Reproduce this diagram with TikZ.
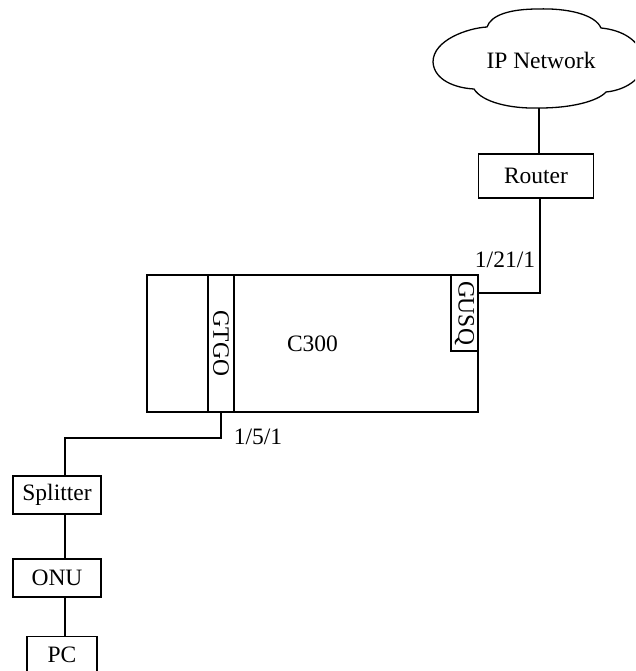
\documentclass[tikz,border=0pt]{standalone}
\usepackage{fontspec}
\setmainfont{Liberation Serif}
\begin{document}
\begin{tikzpicture}[x=1pt,y=-1pt,
  every node/.style={font=\fontsize{23.5}{28}\selectfont},
  boxnode/.style={draw,line width=1.3pt,inner sep=0pt,rectangle},
  wire/.style={line width=1.3pt}]
\clip (0,0) rectangle (635,671);
\fill[white] (0,0) rectangle (635,671);
% cloud
\draw[line width=1.3pt] (487,27) .. controls (468,28) and (433,40) .. (433,62)
  .. controls (434,80) and (455,88) .. (474,89)
  .. controls (482,102) and (510,109) .. (540,108)
  .. controls (572,108) and (598,101) .. (606,92)
  .. controls (628,90) and (648,75) .. (643,57)
  .. controls (639,40) and (622,30) .. (601,28)
  .. controls (595,14) and (566,8) .. (538,9)
  .. controls (510,9) and (491,15) .. (487,27) -- cycle;
\node (ipnet) at (541,60) {IP Network};
\coordinate (cloudbot) at (539,108);
\node[boxnode,minimum width=115pt,minimum height=44pt] (router) at (536,176) {Router};
\node[boxnode,minimum width=331pt,minimum height=137pt] (c300) at (312.5,343.5) {C300};
\node[boxnode,minimum width=26pt,minimum height=137pt] (gtgo) at (221,343.5) {\rotatebox{-90}{GTGO}};
\node[boxnode,minimum width=27pt,minimum height=76pt] (gusq) at (464.5,313) {\rotatebox{-90}{GUSQ}};
\node[boxnode,minimum width=88pt,minimum height=38pt] (splitter) at (57,495) {Splitter};
\node[boxnode,minimum width=88pt,minimum height=38pt] (onu) at (57,578) {ONU};
\node[boxnode,minimum width=70pt,minimum height=70pt,anchor=north] (pc) at (62,636) {};
\node (pctext) at (62,655) {PC};
\node (l1) at (505,260) {1/21/1};
\node (l2) at (258,437) {1/5/1};
\coordinate (gusqport) at (478,293);
\coordinate (bend) at (65,438);
\draw[wire] (cloudbot) -- (router.north -| cloudbot);
\draw[wire] (router.south) ++(4,0) coordinate (rs) (rs) |- (gusqport);
\draw[wire] (gtgo.south) |- (bend) -- (splitter.north -| bend);
\draw[wire] (splitter.south -| bend) -- (onu.north -| bend);
\draw[wire] (onu.south -| bend) -- (pc.north -| bend);
\end{tikzpicture}
\end{document}
